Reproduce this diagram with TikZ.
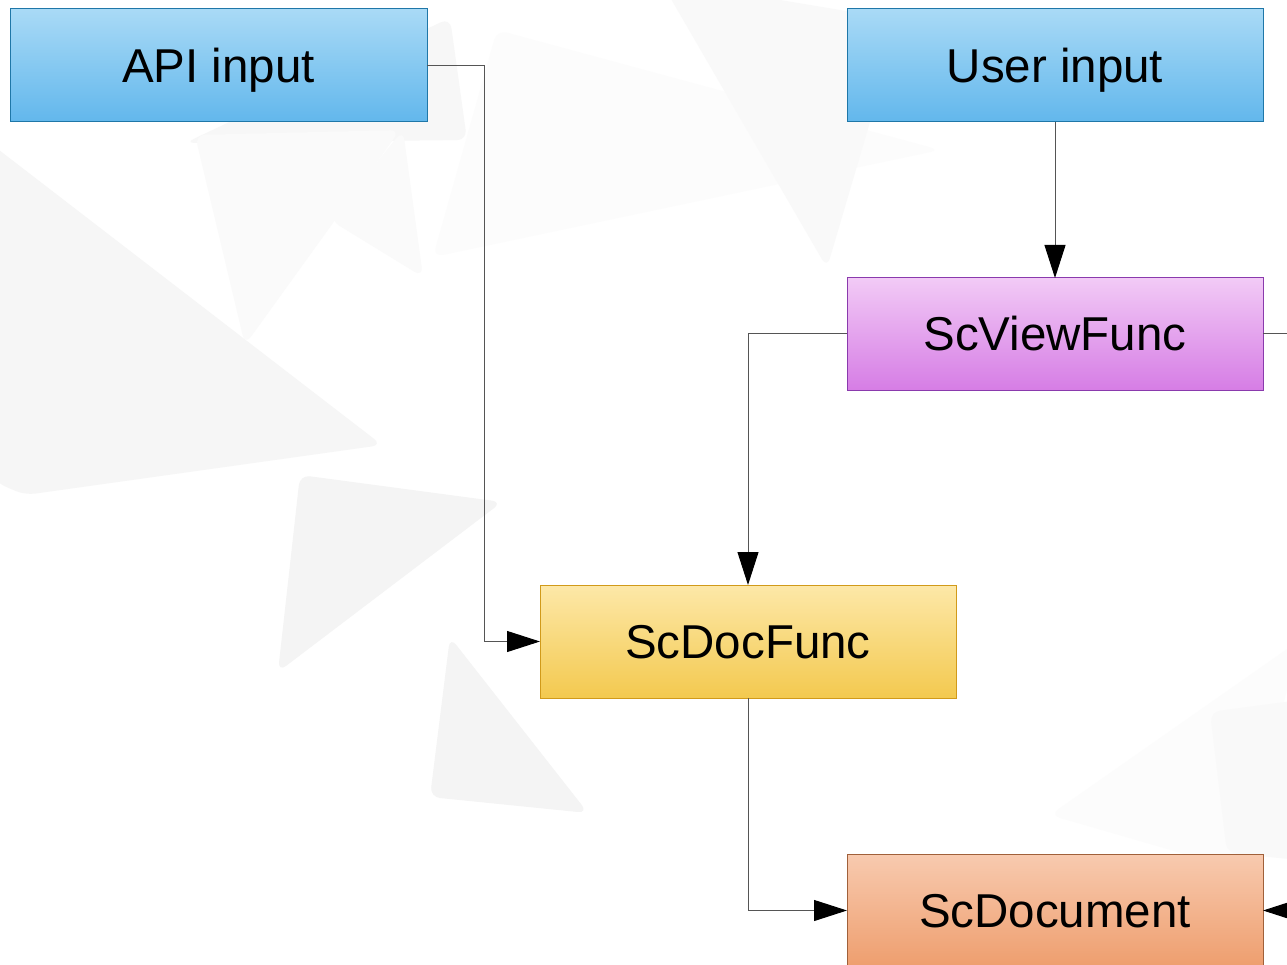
\documentclass[tikz,border=0pt]{standalone}
\usepackage{fontspec}
\setmainfont{Liberation Sans}
\usetikzlibrary{arrows.meta}
\definecolor{bluetop}{HTML}{A9DAF6}
\definecolor{bluebot}{HTML}{62B7EC}
\definecolor{blueline}{HTML}{1F77A8}
\definecolor{purptop}{HTML}{F2CAF6}
\definecolor{purpbot}{HTML}{D67DE5}
\definecolor{purpline}{HTML}{8A3AAD}
\definecolor{yeltop}{HTML}{FDE8A8}
\definecolor{yelbot}{HTML}{F3C94F}
\definecolor{yelline}{HTML}{D19A1A}
\definecolor{ortop}{HTML}{F8CAAF}
\definecolor{orbot}{HTML}{EE9E6E}
\definecolor{orline}{HTML}{A0603A}
\definecolor{conn}{HTML}{555555}
\tikzset{
  box/.style={draw, line width=1pt, inner sep=0pt, outer sep=0pt,
    minimum width=416pt, minimum height=113pt,
    text height=34pt, text depth=0pt,
    font=\fontsize{47.5}{56}\selectfont, text=black},
  bluebox/.style={box, draw=blueline, top color=bluetop, bottom color=bluebot},
  purpbox/.style={box, draw=purpline, top color=purptop, bottom color=purpbot},
  yelbox/.style={box, draw=yelline, top color=yeltop, bottom color=yelbot},
  orbox/.style={box, draw=orline, top color=ortop, bottom color=orbot},
  link/.style={draw=conn, line width=1pt},
  arrowlink/.style={link, -{Triangle[length=33pt, width=21pt, color=black, fill=black]}},
  bgshape/.style={rounded corners=10pt, draw=none}
}
\begin{document}
\begin{tikzpicture}[x=1pt, y=-1pt]
\useasboundingbox (0,0) rectangle (1287,965);
\clip (0,0) rectangle (1287,965);
\fill[white] (0,0) rectangle (1287,965);
% faint background shapes
\fill[bgshape, fill=black!3.5] (-40,120) -- (382,445) -- (25,495) -- (-5,482) -- cycle;
\fill[bgshape, fill=black!4.5] (300,475) -- (502,502) -- (278,672) -- cycle;
\fill[bgshape, fill=black!4.5] (450,637) -- (588,813) -- (430,797) -- cycle;
\fill[bgshape, fill=black!3] (450,18) -- (467,140) -- (185,143) -- cycle;
\fill[bgshape, fill=black!2] (195,135) -- (400,130) -- (245,345) -- cycle;
\fill[bgshape, fill=black!2] (403,130) -- (423,277) -- (330,220) -- cycle;
\fill[bgshape, fill=black!1.2] (497,30) -- (940,150) -- (433,257) -- cycle;
\fill[bgshape, fill=black!2.5] (660,-20) -- (827,268) -- (900,20) -- cycle;
\fill[bgshape, fill=black!1.2] (1050,815) -- (1300,640) -- (1240,870) -- cycle;
\fill[bgshape, fill=black!2.5] (1210,712) -- (1300,700) -- (1300,860) -- (1227,853) -- cycle;
% nodes
\node[bluebox, minimum width=417pt] (api) at (218.5,65.5) {API input};
\node[bluebox] (user) at (1055,65.5) {User input};
\node[purpbox, minimum height=112pt] (view) at (1055,334) {ScViewFunc};
\node[yelbox] (docfunc) at (748,641.5) {ScDocFunc};
\node[orbox] (docu) at (1055,910.5) {ScDocument};
\coordinate (rightout) at (1300,334);
\coordinate (rightin) at (1310,910.5);
% connectors
\draw[arrowlink] (api.east) -- ++(57,0) |- (docfunc.west);
\draw[arrowlink] (user.south) -- (view.north);
\draw[arrowlink] (view.west) -| (docfunc.north);
\draw[arrowlink] (docfunc.south) |- (docu.west);
\draw[link] (view.east) -- (rightout);
\draw[arrowlink] (rightin) -- (docu.east);
\end{tikzpicture}
\end{document}
